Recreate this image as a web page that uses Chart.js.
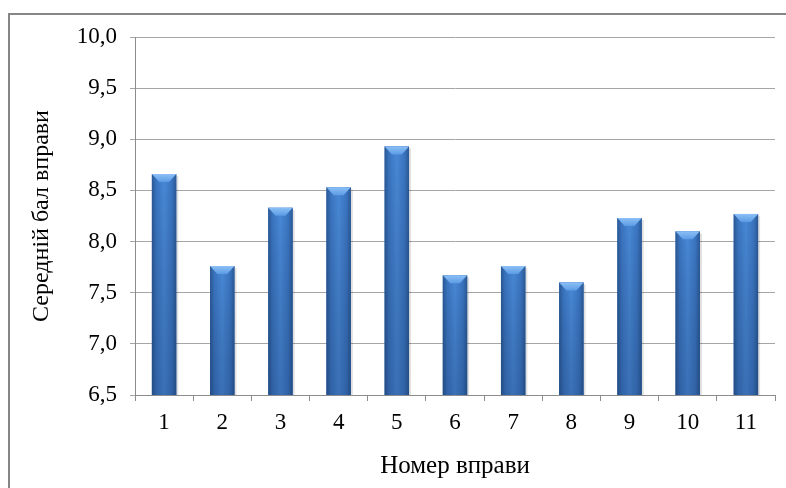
<!DOCTYPE html>
<html>
<head>
<meta charset="utf-8">
<script src="https://cdn.jsdelivr.net/npm/chart.js@4.4.1/dist/chart.umd.min.js"></script>
<style>
    html, body { margin: 0; padding: 0; background: #fff; }
    #wrap { position: relative; width: 786px; height: 488px; overflow: hidden; }
    #frame { position: absolute; left: 8px; top: 13px; width: 900px; height: 600px;
             border-left: 2px solid #868686; border-top: 2px solid #868686; }
    canvas { position: absolute; left: 0; top: 0; }
</style>
</head>
<body>
<div id="wrap">
    <div id="frame"></div>
    <canvas id="chart" width="786" height="488"></canvas>
</div>
<script>
// Data
const exercises = ['1', '2', '3', '4', '5', '6', '7', '8', '9', '10', '11'];
const avgScores = [8.66, 7.76, 8.33, 8.53, 8.93, 7.67, 7.76, 7.60, 8.23, 8.10, 8.27];
const yMin = 6.5;
const yMax = 10.0;
const yStep = 0.5;

const FONT = "'Liberation Serif', 'Times New Roman', serif";

// Paints the glossy column look on top of each bar the library placed
const barShine = {
    id: 'barShine',
    afterDatasetsDraw(chart) {
        const c = chart.ctx;
        const area = chart.chartArea;
        const meta = chart.getDatasetMeta(0);
        meta.data.forEach(bar => {
            const { x, y, base, width } = bar.getProps(['x', 'y', 'base', 'width'], true);
            const left = x - width / 2;
            const bottom = Math.min(base, area.bottom);
            const h = bottom - y;

            // soft shadow on the right
            c.fillStyle = 'rgba(0,0,0,0.12)';
            c.fillRect(left + width, y + 2, 2, h - 2);

            // body: dark edges, light middle
            const g = c.createLinearGradient(left, 0, left + width, 0);
            g.addColorStop(0, '#2a5894');
            g.addColorStop(0.18, '#3a74c0');
            g.addColorStop(0.5, '#4888d6');
            g.addColorStop(0.82, '#3a74c0');
            g.addColorStop(1, '#2a5894');
            c.fillStyle = g;
            c.fillRect(left, y, width, h);

            // darker towards the base
            const gv = c.createLinearGradient(0, y, 0, bottom);
            gv.addColorStop(0, 'rgba(0,0,0,0)');
            gv.addColorStop(1, 'rgba(10,30,70,0.22)');
            c.fillStyle = gv;
            c.fillRect(left, y, width, h);

            // bevelled cap
            const cap = Math.min(8, h / 2);
            const inset = width * 0.3;
            const gc = c.createLinearGradient(0, y, 0, y + cap);
            gc.addColorStop(0, '#8cc0f6');
            gc.addColorStop(1, '#5b9be4');
            c.fillStyle = gc;
            c.beginPath();
            c.moveTo(left, y);
            c.lineTo(left + width, y);
            c.lineTo(left + width - inset, y + cap);
            c.lineTo(left + inset, y + cap);
            c.closePath();
            c.fill();
        });
    }
};

const ctx = document.getElementById('chart').getContext('2d');
const chart = new Chart(ctx, {
    type: 'bar',
    data: {
        labels: exercises,
        datasets: [{
            data: avgScores,
            backgroundColor: '#3d78c4',
            borderWidth: 0,
            barPercentage: 0.84,
            categoryPercentage: 0.5
        }]
    },
    options: {
        responsive: false,
        animation: false,
        events: [],
        layout: { padding: { left: 0, right: 11, top: 37, bottom: 0 } },
        plugins: { legend: { display: false }, tooltip: { enabled: false } },
        scales: {
            x: {
                grid: { display: true, drawOnChartArea: false, drawTicks: true, tickLength: 6, color: '#8c8c8c', offset: true },
                border: { color: '#8c8c8c', width: 1 },
                ticks: { color: '#000', font: { family: FONT, size: 23 }, padding: 8 },
                title: { display: true, text: 'Номер вправи', color: '#000', font: { family: FONT, size: 25 }, padding: { top: 4, bottom: 7 } },
                afterFit(scale) { scale.height = 93; }
            },
            y: {
                min: yMin,
                max: yMax,
                ticks: {
                    stepSize: yStep,
                    color: '#000',
                    font: { family: FONT, size: 23 },
                    padding: 13,
                    callback: v => v.toFixed(1).replace('.', ',')
                },
                grid: { color: '#a6a6a6', tickLength: 5, drawTicks: true },
                border: { color: '#8c8c8c', width: 1 },
                title: { display: true, text: 'Середній бал вправи', color: '#000', font: { family: FONT, size: 24 }, padding: { top: 27, bottom: 0 } },
                afterFit(scale) { scale.width = 135; }
            }
        }
    },
    plugins: [barShine]
});
</script>
</body>
</html>
